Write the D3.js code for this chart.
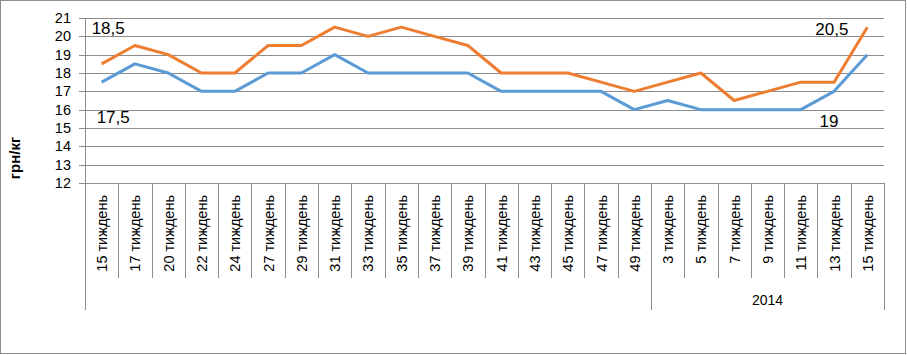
<!DOCTYPE html>
<html><head><meta charset="utf-8">
<script src="https://cdn.jsdelivr.net/npm/d3@7"></script>
<style>body{margin:0;background:#fff}svg{display:block;font-family:"Liberation Sans",Arial,sans-serif}</style>
</head><body><svg id="c" width="907" height="355"></svg>
<script>
const categories = ["15 тиждень","17 тиждень","20 тиждень","22 тиждень","24 тиждень","27 тиждень","29 тиждень","31 тиждень","33 тиждень","35 тиждень","37 тиждень","39 тиждень","41 тиждень","43 тиждень","45 тиждень","47 тиждень","49 тиждень","3 тиждень","5 тиждень","7 тиждень","9 тиждень","11 тиждень","13 тиждень","15 тиждень"];
const groups = [{label:"", start:0, end:16},{label:"2014", start:17, end:23}];
const seriesHigh = [18.5,19.5,19,18,18,19.5,19.5,20.5,20,20.5,20,19.5,18,18,18,17.5,17,17.5,18,16.5,17,17.5,17.5,20.5];
const seriesLow = [17.5,18.5,18,17,17,18,18,19,18,18,18,18,17,17,17,17,16,16.5,16,16,16,16,17,19];
const yTicks = [12,13,14,15,16,17,18,19,20,21];
const yTitle = "грн/кг";
const annotations = [
  {series:"high", idx:0, text:"18,5"},
  {series:"low", idx:0, text:"17,5"},
  {series:"high", idx:23, text:"20,5"},
  {series:"low", idx:23, text:"19"}
];

const svg = d3.select("#c");
const L=85, R=884, T=18, B=183;
const grid="#8c8c8c";
svg.append("rect").attr("x",0.5).attr("y",0.5).attr("width",905).attr("height",353).attr("fill","#fff").attr("stroke",grid);

const x = d3.scaleBand().domain(d3.range(categories.length)).range([L,R]).padding(0);
const y = d3.scaleLinear().domain([12,21]).range([B,T]);

svg.append("g").selectAll("line").data(yTicks).join("line")
  .attr("x1",L-6).attr("x2",R).attr("y1",d=>Math.round(y(d))+0.5).attr("y2",d=>Math.round(y(d))+0.5)
  .attr("stroke",grid).attr("stroke-width",1);

svg.append("g").selectAll("text").data(yTicks).join("text")
  .attr("x",71).attr("y",d=>y(d)).attr("dy","0.35em").attr("text-anchor","end")
  .attr("font-size",14.5).attr("fill","#000").text(d=>d);

svg.append("line").attr("x1",L+0.5).attr("x2",L+0.5).attr("y1",T).attr("y2",310).attr("stroke",grid);

const inner = d3.range(1,categories.length).filter(i=>!groups.some(g=>g.start===i));
svg.append("g").selectAll("line").data(inner).join("line")
  .attr("x1",i=>Math.round(x(i))+0.5).attr("x2",i=>Math.round(x(i))+0.5)
  .attr("y1",B).attr("y2",278).attr("stroke",grid);
const seps = groups.map(g=>g.start).filter(i=>i>0).concat([categories.length]);
svg.append("g").selectAll("line").data(seps).join("line")
  .attr("x1",i=>Math.round(i<categories.length?x(i):R)+0.5).attr("x2",i=>Math.round(i<categories.length?x(i):R)+0.5)
  .attr("y1",B).attr("y2",310).attr("stroke",grid);

svg.append("g").selectAll("text").data(categories).join("text")
  .attr("transform",(d,i)=>`translate(${x(i)+x.bandwidth()/2+5.5},195) rotate(-90)`)
  .attr("text-anchor","end").attr("font-size",14.5).attr("fill","#000").text(d=>d);

svg.append("g").selectAll("text").data(groups.filter(g=>g.label)).join("text")
  .attr("x",g=>(x(g.start)+R)/2).attr("y",305).attr("text-anchor","middle")
  .attr("font-size",14).attr("fill","#000").text(g=>g.label);

svg.append("text").attr("transform","translate(20,158) rotate(-90)").attr("text-anchor","middle")
  .attr("font-size",15).attr("font-weight","bold").attr("fill","#000").text(yTitle);

const line = d3.line().x((d,i)=>x(i)+x.bandwidth()/2).y(d=>y(d));
svg.append("path").datum(seriesLow).attr("d",line).attr("fill","none").attr("stroke","#5B9BD5").attr("stroke-width",3).attr("stroke-linejoin","round");
svg.append("path").datum(seriesHigh).attr("d",line).attr("fill","none").attr("stroke","#ED7D31").attr("stroke-width",3).attr("stroke-linejoin","round");

const ann = [
  {a:annotations[0], dx:-10, dy:-30, anchor:"start"},
  {a:annotations[1], dx:-5, dy:41, anchor:"start"},
  {a:annotations[2], dx:-19, dy:8, anchor:"end"},
  {a:annotations[3], dx:-29, dy:72, anchor:"end"}
];
ann.forEach(o=>{
  const s = o.a.series==="high"?seriesHigh:seriesLow;
  svg.append("text").attr("x",x(o.a.idx)+x.bandwidth()/2+o.dx).attr("y",y(s[o.a.idx])+o.dy)
    .attr("text-anchor",o.anchor).attr("font-size",17).attr("fill","#000").text(o.a.text);
});
</script></body></html>
